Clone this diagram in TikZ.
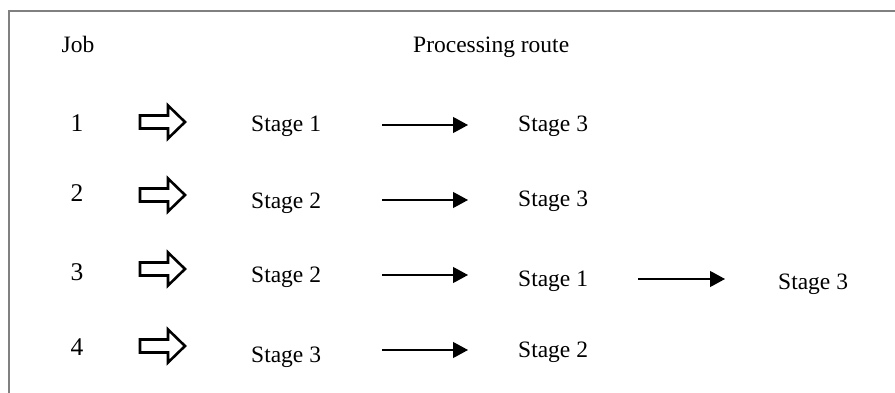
\documentclass[tikz,border=0pt]{standalone}
\usepackage{fontspec}
\setmainfont{Liberation Serif}
\usetikzlibrary{arrows.meta}
\tikzset{
  lbl/.style={anchor=base,inner sep=0pt,font=\fontsize{23.5}{28}\selectfont},
  jobno/.style={lbl,font=\fontsize{25.5}{30}\selectfont},
  stage/.style={lbl,anchor=base west},
  route/.style={line width=1.2,-{Triangle[length=15,width=16]}},
  jobarrow/.style={line width=2.6,line join=miter},
  frame/.style={line width=1.6,black!50}
}
\begin{document}
\begin{tikzpicture}[x=1pt,y=-1pt]
  \useasboundingbox (0,0) rectangle (895,393);
  \draw[frame] (9,393) -- (9,11) -- (895,11);
  \node[lbl] (job) at (78,53) {Job};
  \node[stage] (head) at (413,53) {Processing route};
  % job numbers and the hollow arrows
  \foreach \n/\y/\ya in {1/132/122,2/202/195,3/280/269,4/355/346} {
    \node[jobno] (job\n) at (77,\y) {\n};
    \draw[jobarrow] (140,\ya) ++(0,-6.5) -- ++(28,0) -- ++(0,-10) -- ++(17,16.5)
      -- ++(-17,16.5) -- ++(0,-10) -- ++(-28,0) -- cycle;
  }
  % stages of each route
  \foreach \nm/\x/\y/\t in {s11/251/132/Stage 1, s12/518/132/Stage 3,
      s21/251/208/Stage 2, s22/518/207/Stage 3,
      s31/251/282/Stage 2, s32/518/286/Stage 1, s33/778/289/Stage 3,
      s41/251/362/Stage 3, s42/518/357/Stage 2}
    \node[stage] (\nm) at (\x,\y) {\t};
  \foreach \i/\xa/\xb/\y in {1/382/468/125,2/382/468/200,3/382/468/275,
      4/382/468/350,5/638/725/279} {
    \coordinate (from\i) at (\xa,\y);
    \coordinate (to\i) at (\xb,\y);
    \draw[route] (from\i) -- (to\i);
  }
\end{tikzpicture}
\end{document}
